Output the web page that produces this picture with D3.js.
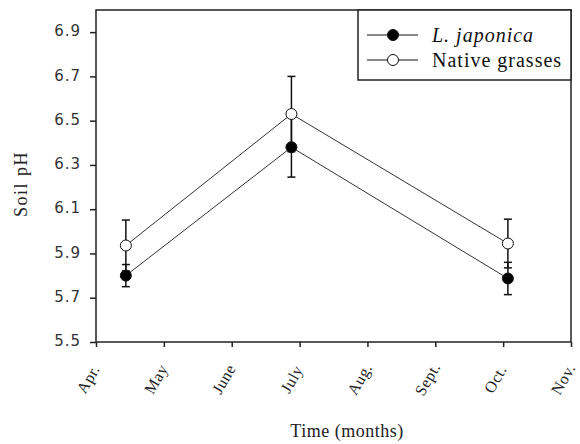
<!DOCTYPE html>
<html>
<head>
<meta charset="utf-8">
<script src="https://cdn.jsdelivr.net/npm/d3@7"></script>
<style>
  body { margin: 0; background: #fff; }
  svg { display: block; }
</style>
</head>
<body>
<svg></svg>
<script>
// month ticks (0 = Apr.)
const months = ["Apr.", "May", "June", "July", "Aug.", "Sept.", "Oct.", "Nov."];
const yTicks = [5.5, 5.7, 5.9, 6.1, 6.3, 6.5, 6.7, 6.9];

// sampling times, in months after Apr.
const sampleTimes = [0.44, 2.88, 6.07];

const japonicaPH = [5.80, 6.38, 5.787];
const japonicaErr = [0.05, 0.135, 0.073];
const nativePH = [5.936, 6.53, 5.945];
const nativeErr = [0.115, 0.17, 0.11];

const legendItems = [
  {label: "L. japonica", fill: "#000", italic: true},
  {label: "Native grasses", fill: "#fff", italic: false}
];

var w = 580;
var h = 444;
const margin = {top: 10, bottom: 102, left: 96, right: 9};
const serif = "'Liberation Serif', 'Times New Roman', serif";

let svg = d3.select("svg")
  .attr("width", w)
  .attr("height", h);

let xScale = d3.scaleLinear()
  .domain([0, months.length - 1])
  .range([margin.left, w - margin.right]);
let yScale = d3.scaleLinear()
  .domain([5.5, 7.0])
  .range([h - margin.bottom, margin.top]);

// frame
svg.append("rect")
  .attr("x", margin.left)
  .attr("y", margin.top)
  .attr("width", w - margin.right - margin.left)
  .attr("height", h - margin.bottom - margin.top)
  .attr("fill", "none")
  .attr("stroke", "#222")
  .attr("stroke-width", 1.5);

// y axis
let yAxis = d3.axisLeft(yScale).tickValues(yTicks).tickSize(6).tickFormat(d3.format(".1f"));
let yG = svg.append("g")
  .attr("transform", `translate(${margin.left},0)`)
  .call(yAxis);
yG.select(".domain").remove();
yG.selectAll("line").attr("stroke", "#222").attr("stroke-width", 1.5);
yG.selectAll("text")
  .attr("x", -15)
  .attr("dy", "0.25em")
  .style("font-family", "'DejaVu Sans', sans-serif")
  .style("font-size", "15px")
  .style("letter-spacing", "1px")
  .attr("fill", "#333");

// x axis (labels drawn separately, rotated)
let xAxis = d3.axisBottom(xScale).tickValues(d3.range(months.length)).tickSize(5).tickFormat("");
let xG = svg.append("g")
  .attr("transform", `translate(0,${h - margin.bottom})`)
  .call(xAxis);
xG.select(".domain").remove();
xG.selectAll("line").attr("stroke", "#222").attr("stroke-width", 1.5);

svg.selectAll(".month")
  .data(months)
  .enter()
  .append("text")
  .attr("class", "month")
  .attr("transform", (d, i) => `translate(${xScale(i) - 8},${h - margin.bottom + 37})rotate(-60)`)
  .attr("text-anchor", "middle")
  .attr("dy", "0.35em")
  .style("font-family", serif)
  .style("font-size", "16px")
  .style("letter-spacing", "0.5px")
  .attr("fill", "#222")
  .text(d => d);

// connecting lines
let line = d3.line()
  .x((d, i) => xScale(sampleTimes[i]))
  .y(d => yScale(d));

[japonicaPH, nativePH].forEach(function(vals){
  svg.append("path")
    .datum(vals)
    .attr("d", line)
    .attr("fill", "none")
    .attr("stroke", "#333")
    .attr("stroke-width", 1);
});

// error bars
function drawErrors(vals, errs){
  let g = svg.append("g").attr("stroke", "#111").attr("stroke-width", 1.5);
  vals.forEach(function(v, i){
    let x = xScale(sampleTimes[i]);
    let y0 = yScale(v - errs[i]);
    let y1 = yScale(v + errs[i]);
    g.append("line").attr("x1", x).attr("x2", x).attr("y1", y0).attr("y2", y1);
    g.append("line").attr("x1", x - 4).attr("x2", x + 4).attr("y1", y0).attr("y2", y0);
    g.append("line").attr("x1", x - 4).attr("x2", x + 4).attr("y1", y1).attr("y2", y1);
  });
}
drawErrors(japonicaPH, japonicaErr);
drawErrors(nativePH, nativeErr);

// markers
function drawDots(vals, fill){
  svg.append("g").selectAll("circle")
    .data(vals)
    .enter()
    .append("circle")
    .attr("cx", (d, i) => xScale(sampleTimes[i]))
    .attr("cy", d => yScale(d))
    .attr("r", 5.5)
    .attr("fill", fill)
    .attr("stroke", "#111")
    .attr("stroke-width", 1);
}
drawDots(japonicaPH, "#000");
drawDots(nativePH, "#fff");

// legend
const legG = svg.append("g");
legG.append("rect")
  .attr("x", 358)
  .attr("y", margin.top)
  .attr("width", w - margin.right - 358)
  .attr("height", 70)
  .attr("fill", "#fff")
  .attr("stroke", "#222")
  .attr("stroke-width", 1.5);

let legY = d3.scalePoint().domain(legendItems.map(d => d.label)).range([35, 60]);
legendItems.forEach(function(d){
  let y = legY(d.label);
  legG.append("line")
    .attr("x1", 367).attr("x2", 418)
    .attr("y1", y).attr("y2", y)
    .attr("stroke", "#111").attr("stroke-width", 1);
  legG.append("circle")
    .attr("cx", 393).attr("cy", y).attr("r", 5.5)
    .attr("fill", d.fill).attr("stroke", "#111");
  legG.append("text")
    .attr("x", 432).attr("y", y)
    .attr("dy", "0.35em")
    .style("font-family", serif)
    .style("font-size", "20px")
    .style("letter-spacing", "1px")
    .style("font-style", d.italic ? "italic" : "normal")
    .attr("fill", "#111")
    .text(d.label);
});

// axis titles
svg.append("text")
  .attr("transform", "translate(21,184)rotate(-90)")
  .attr("text-anchor", "middle")
  .attr("dy", "0.35em")
  .style("font-family", serif)
  .style("font-size", "18px")
  .style("letter-spacing", "1.5px")
  .attr("fill", "#222")
  .text("Soil pH");

svg.append("text")
  .attr("x", 347)
  .attr("y", 431)
  .attr("text-anchor", "middle")
  .attr("dy", "0.35em")
  .style("font-family", serif)
  .style("font-size", "18px")
  .style("letter-spacing", "0.5px")
  .attr("fill", "#222")
  .text("Time (months)");
</script>
</body>
</html>
